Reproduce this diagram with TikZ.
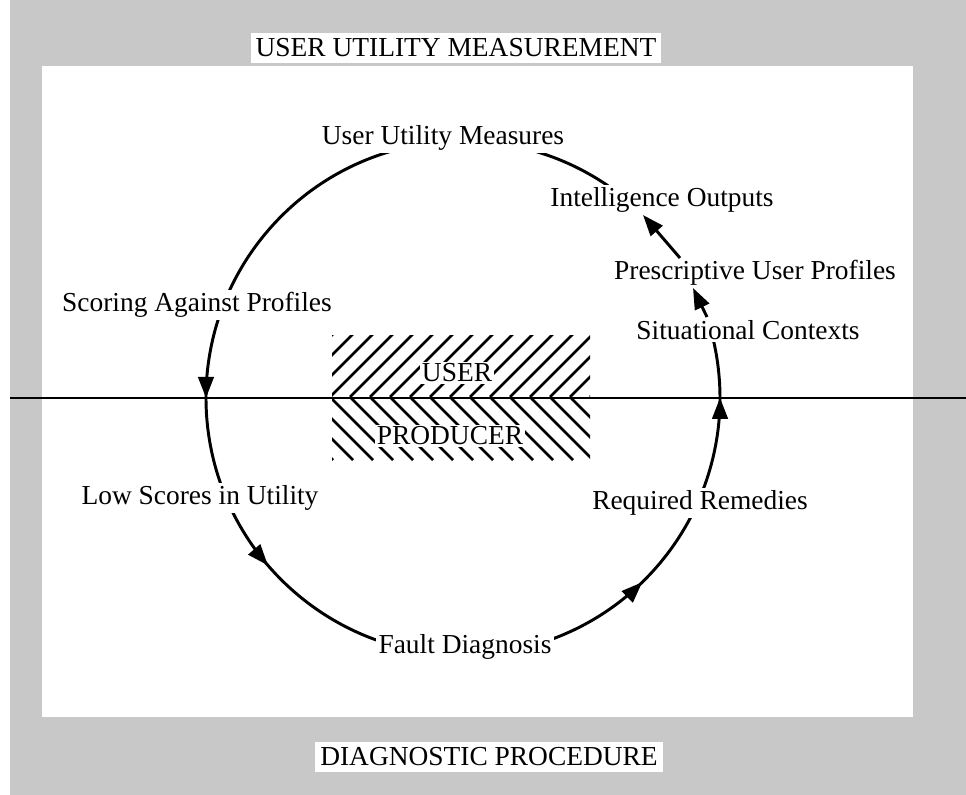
\documentclass[tikz,border=0pt]{standalone}
\usepackage{fontspec}
\setmainfont{Liberation Serif}
\usetikzlibrary{arrows.meta,calc,decorations.markings}
\definecolor{scrn}{RGB}{200,200,200}
\newcommand\tip{Triangle[length=15pt,width=11pt]}
\tikzset{
  lbl/.style={fill=white,inner sep=1.5pt,font=\fontsize{19.5}{22}\selectfont},
  band/.style={fill=white,inner xsep=3.5pt,inner ysep=3.8pt,font=\fontsize{19.5}{22}\selectfont},
  ring/.style={line width=2.1pt,postaction={decorate},decoration={markings,
    mark=at position 0.4 with {\arrow{\tip}},
    mark=at position 0.525 with {\arrow{\tip}},
    mark=at position 0.813 with {\arrow{\tip}},
    mark=at position 0.954 with {\arrow{\tip}}}},
  flow/.style={line width=2.1pt,-{\tip}},
  hatch/.style={line width=1.9pt}
}

\begin{document}
\begin{tikzpicture}[x=0.025cm,y=-0.025cm]
  \useasboundingbox (0,0) rectangle (966,795);
  \fill[scrn] (10,0) rectangle (966,795);
  \fill[white] (42,66) rectangle (913,717);
  \node[band] (ttl) at (456,48) {USER UTILITY MEASUREMENT};
  \node[band] (dgn) at (489,757) {DIAGNOSTIC PROCEDURE};

  \begin{scope}
    \clip (332,335) rectangle (590,397);
    \foreach \k in {250,270,...,600}
      \draw[hatch] (\k,397) -- ++(64,-64);
  \end{scope}
  \begin{scope}
    \clip (332,397) rectangle (590,460);
    \foreach \k in {270,290,...,600}
      \draw[hatch] (\k,397) -- ++(63,63);
  \end{scope}
  \draw[line width=1.7pt] (10,398) -- (966,398);
  \node[lbl] (usr) at (457,373) {USER};
  \node[lbl] (prd) at (450,436) {PRODUCER};

  \coordinate (hub) at (463,398);
  \draw[ring] ($(hub)+(-50:257)$) arc[start angle=-50,end angle=-375,radius=257];

  \node[lbl] (uum) at (443,138) {User Utility Measures};
  \node[lbl] (io) at (662,200) {Intelligence Outputs};
  \node[lbl] (pup) at (755,273) {Prescriptive User Profiles};
  \node[lbl] (sc) at (748,330) {Situational Contexts};
  \node[lbl] (sap) at (197,305) {Scoring Against Profiles};
  \node[lbl] (lsu) at (200,498) {Low Scores in Utility};
  \node[lbl] (rr) at (700,503) {Required Remedies};
  \node[lbl] (fd) at (465,647) {Fault Diagnosis};

  \draw[flow] ($(sc)+(-41,-13)$) -- ($(pup)+(-62,15)$);
  \draw[flow] ($(pup)+(-75,-15)$) -- ($(io)+(-19,15)$);
\end{tikzpicture}
\end{document}
